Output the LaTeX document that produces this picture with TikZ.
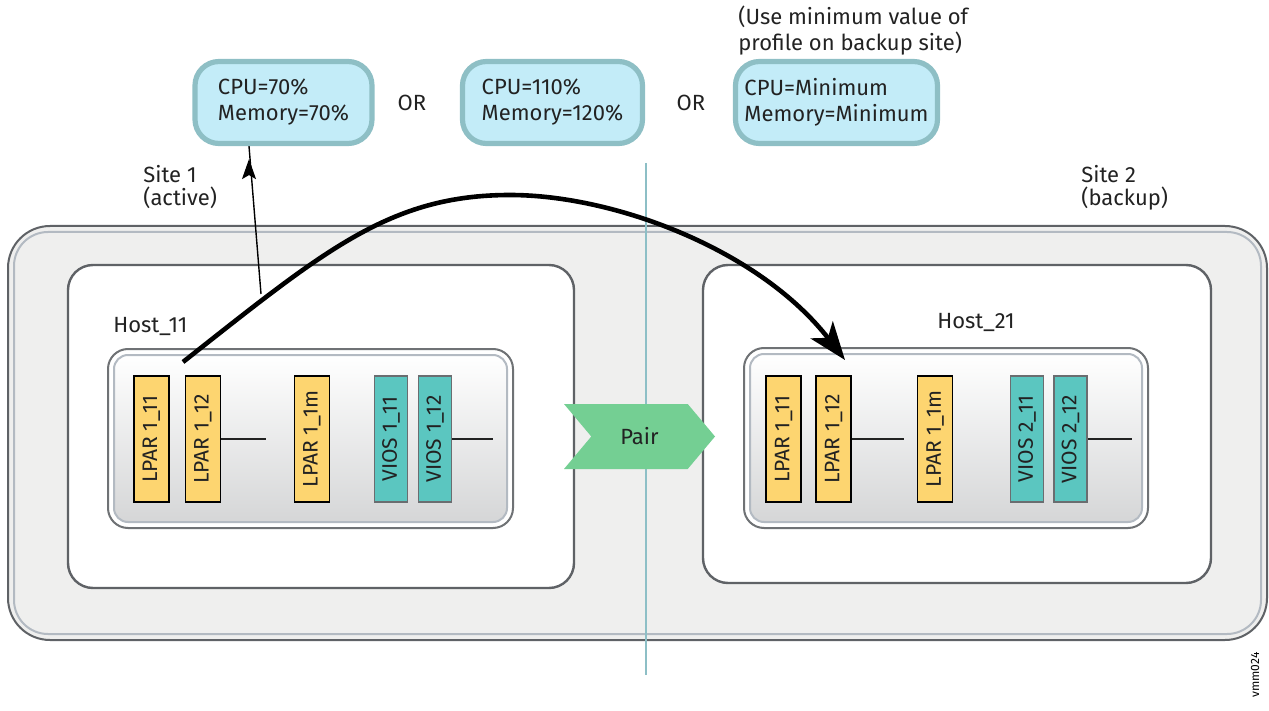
\documentclass[tikz,border=0pt]{standalone}
\usepackage{fontspec}
\setmainfont{Fira Sans}
\usetikzlibrary{arrows.meta,shapes.symbols}
\definecolor{sitegray}{HTML}{EFEFEE}
\definecolor{framegray}{HTML}{5F6266}
\definecolor{rimgray}{HTML}{B3BAC2}
\definecolor{shadegray}{HTML}{D5D6D7}
\definecolor{cfgfill}{HTML}{C3ECF8}
\definecolor{cfgedge}{HTML}{8EBFC5}
\definecolor{lparfill}{HTML}{FDD570}
\definecolor{viosfill}{HTML}{5BC6C0}
\definecolor{viosedge}{HTML}{6A6D70}
\definecolor{pairgreen}{HTML}{74CF93}
\definecolor{splitblue}{HTML}{8DBFC6}
\definecolor{inkgray}{HTML}{222222}
\begin{document}
\begin{tikzpicture}[x=.5pt,y=-.5pt,
		txt/.style={inner sep=0pt, align=left, text=inkgray, font=\fontsize{11}{13}\selectfont},
		cfgbox/.style={draw=cfgedge, line width=2.6pt, fill=cfgfill, rounded corners=12pt, align=left, text=inkgray, font=\fontsize{11}{13}\selectfont, minimum height=41pt},
		hostbox/.style={draw=framegray, line width=1.2pt, fill=white, rounded corners=12.5pt},
		rim/.style={draw=rimgray, line width=1pt, rounded corners=#1},
		lpar/.style={draw, line width=.6pt, fill=lparfill, rotate=90, minimum width=63pt, minimum height=17.5pt, inner sep=0pt, text=inkgray, font=\fontsize{10.5}{13}\selectfont},
		vios/.style={lpar, draw=viosedge, fill=viosfill, minimum height=16.5pt},
		tie/.style={line width=1.4pt, draw=inkgray}]
	\useasboundingbox (0,0) rectangle (1269,711);
	% site frame
	\node[draw=framegray, line width=1pt, fill=sitegray, rounded corners=21pt, minimum width=629.5pt, minimum height=207pt] (site) at (637.5,433) {};
	\draw[rim=17pt] ([shift={(7,7)}]site.north west) rectangle ([shift={(-7,-7)}]site.south east);
	\coordinate (splittop) at (646,163);
	\coordinate (splitbot) at (646,675);
	\draw[splitblue, line width=1.1pt] (splittop) -- (splitbot);
	%
	\node[hostbox, minimum width=253pt, minimum height=161.5pt] (host11) at (321,426.5) {};
	\node[hostbox, minimum width=254pt, minimum height=159pt] (host21) at (957,424) {};
	\node[txt, anchor=west] (host11lbl) at (113,326) {Host\_11};
	\node[txt, anchor=west] (host21lbl) at (937,322) {Host\_21};
	%
	\node[draw=framegray!90, line width=1pt, fill=white, rounded corners=10pt, minimum width=202.5pt, minimum height=89.5pt] (frame11) at (310.5,438.5) {};
	\draw[rim=7pt, top color=white, bottom color=shadegray] ([shift={(7,7)}]frame11.north west) rectangle ([shift={(-7,-7)}]frame11.south east);
	\node[draw=framegray!90, line width=1pt, fill=white, rounded corners=10pt, minimum width=202pt, minimum height=90pt] (frame21) at (946,438) {};
	\draw[rim=7pt, top color=white, bottom color=shadegray] ([shift={(7,7)}]frame21.north west) rectangle ([shift={(-7,-7)}]frame21.south east);
	%
	\node[lpar] (a11) at (151.5,439) {LPAR 1\_11};
	\node[lpar] (a12) at (203,439) {LPAR 1\_12};
	\node[lpar] (a1m) at (312,439) {LPAR 1\_1m};
	\node[vios] (v11) at (391,439) {VIOS 1\_11};
	\node[vios] (v12) at (435,439) {VIOS 1\_12};
	\coordinate (a12end) at (266,439);
	\coordinate (v12end) at (493,439);
	\draw[tie] (a12.south) -- (a12end);
	\draw[tie] (v12.south) -- (v12end);
	%
	\node[lpar] (b11) at (783.5,439) {LPAR 1\_11};
	\node[lpar] (b12) at (833.5,439) {LPAR 1\_12};
	\node[lpar] (b1m) at (935,439) {LPAR 1\_1m};
	\node[vios] (w11) at (1027,439) {VIOS 2\_11};
	\node[vios] (w12) at (1070.5,439) {VIOS 2\_12};
	\coordinate (b12end) at (904,439);
	\coordinate (w12end) at (1132,439);
	\draw[tie] (b12.south) -- (b12end);
	\draw[tie] (w12.south) -- (w12end);
	%
	\node[shape=signal, signal from=west, signal to=east, signal pointer angle=100, fill=pairgreen, minimum width=75.5pt, minimum height=32.5pt, inner sep=0pt, text=inkgray, font=\fontsize{11}{13}\selectfont] (pair) at (639.5,436.5) {Pair};
	%
	\node[cfgbox, minimum width=88.5pt] (cfg1) at (283.5,102.5) {CPU=70\%\\Memory=70\%};
	\node[txt] (or1) at (412,103) {OR};
	\node[cfgbox, minimum width=90pt] (cfg2) at (552.5,102.5) {CPU=110\%\\Memory=120\%};
	\node[txt] (or2) at (691,103) {OR};
	\node[cfgbox, minimum width=101pt] (cfg3) at (836.5,102.5) {CPU=Minimum\\Memory=Minimum};
	\node[txt, anchor=west] (note) at (738,31) {(Use minimum value of\\profile on backup site)};
	\node[txt, anchor=west, font=\fontsize{11}{11.5}\selectfont] (site1) at (143,187.5) {Site 1\\(active)};
	\node[txt, anchor=west, font=\fontsize{11}{11.5}\selectfont] (site2) at (1081,188) {Site 2\\(backup)};
	%
	\coordinate (jumpfrom) at (183,362);
	\coordinate (jumptop) at (510,195);
	\coordinate (jumpto) at (845,360);
	\draw[line width=2.3pt, -{Stealth[length=19pt, width=14pt, inset=5pt]}] (jumpfrom) .. controls (325,250) and (390,195) .. (jumptop) .. controls (615,195) and (760,250) .. (jumpto);
	\coordinate (sizefrom) at (261,294);
	\draw[line width=.7pt, -{Stealth[length=10pt, width=7pt, inset=2pt]}] (sizefrom) -- (cfg1.south -| 249,0) ++(0,13);
	%
	\node[rotate=90, inner sep=0pt, font=\fontsize{6}{7}\selectfont] (tag) at (1255,675) {vmm024};
\end{tikzpicture}
\end{document}
